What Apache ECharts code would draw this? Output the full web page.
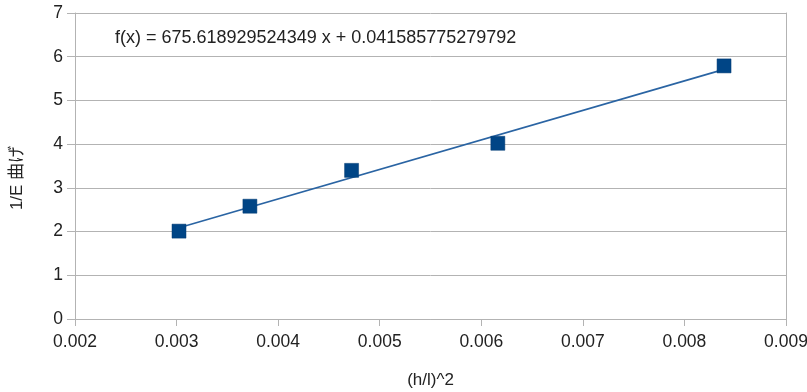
<!DOCTYPE html>
<html>
<head>
<meta charset="utf-8">
<script src="https://cdn.jsdelivr.net/npm/echarts@6/dist/echarts.min.js"></script>
<style>
html,body{margin:0;padding:0;background:#fff;}
#chart{width:807px;height:392px;}
</style>
</head>
<body>
<div id="chart"></div>
<script>
var xValues = [0.003024, 0.003722, 0.004723, 0.006163, 0.008390];
var yValues = [2.01, 2.58, 3.40, 4.02, 5.79];
var trendX = [0.003024, 0.008390];
var trendY = [2.085, 5.710];
var xTicks = {min: 0.002, max: 0.009, interval: 0.001};
var yTicks = {min: 0, max: 7, interval: 1};
var equationText = 'f(x) = 675.618929524349 x + 0.041585775279792';
var xTitle = '(h/l)^2';
var yTitle = '1/E 曲げ';

var points = xValues.map(function(x, i){ return [x, yValues[i]]; });
var trend = trendX.map(function(x, i){ return [x, trendY[i]]; });

var gray = '#b3b3b3';
var textColor = '#222222';
var font = '"Liberation Sans", Arial, sans-serif';

var chart = echarts.init(document.getElementById('chart'));
chart.setOption({
  animation: false,
  backgroundColor: '#ffffff',
  grid: {left: 75, right: 21, top: 13, bottom: 73, containLabel: false, outerBoundsMode: 'none'},
  xAxis: {
    type: 'value',
    min: xTicks.min, max: xTicks.max, interval: xTicks.interval,
    name: xTitle, nameLocation: 'middle', nameGap: 53,
    nameTextStyle: {color: textColor, fontSize: 17, fontFamily: font},
    axisLine: {show: true, lineStyle: {color: gray, width: 1}},
    axisTick: {show: true, length: 7, lineStyle: {color: gray}},
    axisLabel: {color: textColor, fontSize: 17.5, fontFamily: font, margin: 14,
      hideOverlap: false, showMaxLabel: true, showMinLabel: true,
      formatter: function(v){ return v.toFixed(3); }},
    splitLine: {show: false}
  },
  yAxis: [{
    type: 'value',
    min: yTicks.min, max: yTicks.max, interval: yTicks.interval,
    axisLine: {show: true, lineStyle: {color: gray, width: 1}},
    axisTick: {show: true, length: 8, lineStyle: {color: gray}},
    axisLabel: {color: textColor, fontSize: 17.5, fontFamily: font, margin: 12},
    splitLine: {show: true, lineStyle: {color: gray, width: 1}}
  }, {
    type: 'value', position: 'right',
    min: yTicks.min, max: yTicks.max, interval: yTicks.interval,
    axisLine: {show: true, lineStyle: {color: gray, width: 1}},
    axisTick: {show: false}, axisLabel: {show: false}, splitLine: {show: false}
  }],
  graphic: [{
    type: 'text', left: 115, top: 29,
    style: {text: equationText, fill: textColor, fontSize: 18, fontFamily: font}
  }, {
    type: 'text', x: 17, y: 178, rotation: Math.PI / 2,
    style: {text: yTitle, fill: textColor, fontSize: 17, align: 'center', verticalAlign: 'middle',
      fontFamily: '"Liberation Sans", "Noto Sans CJK JP", sans-serif'}
  }],
  series: [{
    type: 'line',
    data: trend,
    showSymbol: false,
    symbol: 'none',
    lineStyle: {color: '#2a64a3', width: 1.6},
    silent: true, z: 2
  }, {
    type: 'scatter',
    data: points,
    symbol: 'rect',
    symbolSize: 14,
    itemStyle: {color: '#004586', opacity: 1, borderColor: '#003a72', borderWidth: 0.5},
    z: 3
  }]
});
</script>
</body>
</html>
